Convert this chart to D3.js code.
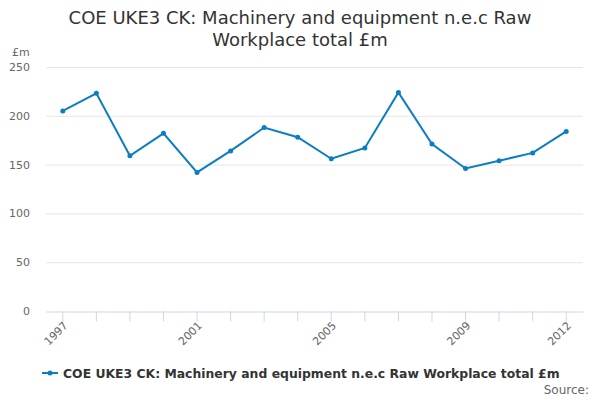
<!DOCTYPE html>
<html lang="en">
<head>
<meta charset="UTF-8">
<title>COE UKE3 CK</title>
<script src="https://cdn.jsdelivr.net/npm/d3@7"></script>
<style>
  body { margin: 0; background: #fff; }
  text { font-family: "DejaVu Sans", sans-serif; }
</style>
</head>
<body>
<script>
var years = ["1997","1998","1999","2000","2001","2002","2003","2004",
             "2005","2006","2007","2008","2009","2010","2011","2012"],
    values = [205, 223, 159, 182, 142, 164, 188, 178,
              156, 167, 224, 171, 146, 154, 162, 184],
    yTicks = [0, 50, 100, 150, 200, 250],
    shownYears = ["1997", "2001", "2005", "2009", "2012"],
    seriesName = "COE UKE3 CK: Machinery and equipment n.e.c Raw Workplace total £m";

var w = 600, h = 400,
    plotLeft = 46, plotRight = 583, plotTop = 67, plotBottom = 311,
    lineColor = "#0b7dc1";

var svg = d3.select("body").append("svg")
    .attr("width", w).attr("height", h);

// title
svg.append("text")
    .attr("x", w / 2).attr("y", 24)
    .attr("text-anchor", "middle")
    .attr("font-size", "18px").attr("fill", "#333")
    .text("COE UKE3 CK: Machinery and equipment n.e.c Raw");
svg.append("text")
    .attr("x", w / 2).attr("y", 46)
    .attr("text-anchor", "middle")
    .attr("font-size", "18px").attr("fill", "#333")
    .text("Workplace total £m");

var x = d3.scaleBand().domain(years).range([plotLeft, plotRight]);
var y = d3.scaleLinear().domain([0, 250]).range([plotBottom, plotTop]);
function cx(d) { return x(d) + x.bandwidth() / 2; }

// gridlines
svg.append("g").selectAll("line")
    .data(yTicks.filter(function(d) { return d > 0; }))
    .enter().append("line")
    .attr("x1", plotLeft).attr("x2", plotRight)
    .attr("y1", function(d) { return y(d) + 0.5; })
    .attr("y2", function(d) { return y(d) + 0.5; })
    .attr("stroke", "#e6e6e6").attr("stroke-width", 1);

// y labels
svg.append("g").selectAll("text")
    .data(yTicks)
    .enter().append("text")
    .attr("x", 30)
    .attr("y", function(d) { return y(d) + 4; })
    .attr("text-anchor", "end")
    .attr("font-size", "11px").attr("fill", "#666")
    .text(function(d) { return d; });

svg.append("text")
    .attr("x", 12).attr("y", 56)
    .attr("font-size", "11px").attr("fill", "#666")
    .text("£m");

// x axis
var xAxis = d3.axisBottom(x)
    .tickSize(10)
    .tickSizeOuter(0)
    .tickFormat(function(d) { return shownYears.indexOf(d) >= 0 ? d : ""; });

var gx = svg.append("g")
    .attr("transform", "translate(0," + (plotBottom + 0.5) + ")")
    .call(xAxis);
gx.select(".domain").attr("stroke", "#ccd6eb");
gx.selectAll(".tick line").attr("stroke", "#ccd6eb");
gx.selectAll(".tick text")
    .attr("font-family", "DejaVu Sans, sans-serif")
    .attr("font-size", "11px").attr("fill", "#666")
    .attr("text-anchor", "end")
    .attr("y", 0).attr("dy", "0.35em")
    .attr("transform", "translate(3,12) rotate(-45)");

// line
var line = d3.line()
    .x(function(d, i) { return cx(years[i]); })
    .y(function(d) { return y(d); });

svg.append("path")
    .datum(values)
    .attr("d", line)
    .attr("fill", "none")
    .attr("stroke", lineColor)
    .attr("stroke-width", 2);

svg.append("g").selectAll("circle")
    .data(values)
    .enter().append("circle")
    .attr("cx", function(d, i) { return cx(years[i]); })
    .attr("cy", function(d) { return y(d); })
    .attr("r", 2.5)
    .attr("fill", lineColor);

// legend
var lg = svg.append("g");
lg.append("line")
    .attr("x1", 42).attr("x2", 58)
    .attr("y1", 373).attr("y2", 373)
    .attr("stroke", lineColor).attr("stroke-width", 2);
lg.append("circle")
    .attr("cx", 50).attr("cy", 373).attr("r", 2.5)
    .attr("fill", lineColor);
lg.append("text")
    .attr("x", 63).attr("y", 377.5)
    .attr("font-size", "12.4px").attr("font-weight", "bold").attr("fill", "#333")
    .text(seriesName);

svg.append("text")
    .attr("x", 589).attr("y", 394)
    .attr("text-anchor", "end")
    .attr("font-size", "12px").attr("fill", "#666")
    .text("Source:");
</script>
</body>
</html>
